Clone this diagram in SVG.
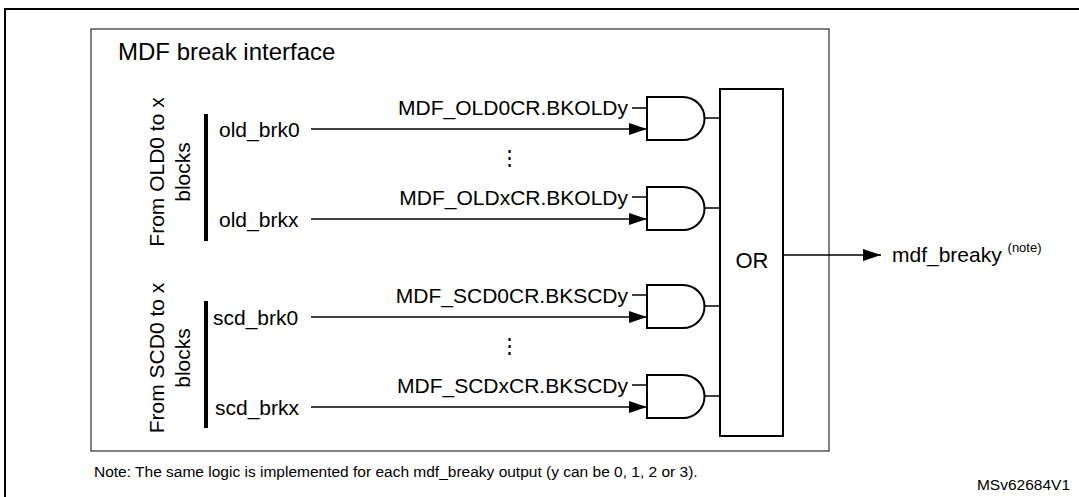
<svg xmlns="http://www.w3.org/2000/svg" width="1079" height="497" viewBox="0 0 1079 497">
<style>
text{font-family:"Liberation Sans",Arial,sans-serif;fill:#000}
.l{font-size:21px}
.ln{stroke:#000;stroke-width:1.5;fill:none}
.g{stroke:#000;stroke-width:2;fill:#fff}
</style>
<defs><marker id="a" markerWidth="18" markerHeight="12" refX="18" refY="6" orient="auto" markerUnits="userSpaceOnUse"><path d="M0,0L18,6L0,12z"/></marker></defs>
<rect width="1079" height="497" fill="#fff"/>
<rect x="5" y="9" width="1080" height="492" fill="none" stroke="#000" stroke-width="2"/>
<g id="frame"><rect x="91" y="29" width="738" height="422" fill="none" stroke="#000" stroke-width="1"/>
<text x="118" y="60" font-size="24">MDF break interface</text></g>
<g id="old-src"><rect x="204" y="114" width="4" height="127"/>
<text class="l" transform="translate(164,172) rotate(-90)" text-anchor="middle">From OLD0 to x</text>
<text class="l" transform="translate(190,172) rotate(-90)" text-anchor="middle">blocks</text></g>
<g id="scd-src"><rect x="204" y="301" width="4" height="127"/>
<text class="l" transform="translate(164,358) rotate(-90)" text-anchor="middle">From SCD0 to x</text>
<text class="l" transform="translate(190,358) rotate(-90)" text-anchor="middle">blocks</text></g>
<g id="connectors">
<line class="ln" x1="311" y1="129" x2="647" y2="129" marker-end="url(#a)"/>
<line class="ln" x1="311" y1="219" x2="647" y2="219" marker-end="url(#a)"/>
<line class="ln" x1="311" y1="317" x2="647" y2="317" marker-end="url(#a)"/>
<line class="ln" x1="311" y1="407" x2="647" y2="407" marker-end="url(#a)"/>
<path class="ln" d="M632,108H647M632,197H647M632,295H647M632,385H647"/>
<path class="ln" d="M705,118H720M705,208H720M705,306H720M705,396H720"/>
<line class="ln" x1="783" y1="255" x2="881" y2="255" marker-end="url(#a)"/>
</g>
<g id="labels">
<text class="l" x="219" y="137">old_brk0</text>
<text class="l" x="219" y="227">old_brkx</text>
<text class="l" x="213" y="325">scd_brk0</text>
<text class="l" x="215" y="415">scd_brkx</text>
<text class="l" x="628" y="115" text-anchor="end">MDF_OLD0CR.BKOLDy</text>
<text class="l" x="628" y="205" text-anchor="end">MDF_OLDxCR.BKOLDy</text>
<text class="l" x="628" y="303" text-anchor="end">MDF_SCD0CR.BKSCDy</text>
<text class="l" x="628" y="393" text-anchor="end">MDF_SCDxCR.BKSCDy</text>
<text class="l" x="509" y="165" text-anchor="middle">⋮</text>
<text class="l" x="509" y="353" text-anchor="middle">⋮</text>
</g>
<g id="and1"><path class="g" d="M647,97H683A21.5,21.5 0 0 1 683,140H647Z"/></g>
<g id="and2"><path class="g" d="M647,187H683A21.5,21.5 0 0 1 683,230H647Z"/></g>
<g id="and3"><path class="g" d="M647,285H683A21.5,21.5 0 0 1 683,328H647Z"/></g>
<g id="and4"><path class="g" d="M647,375H683A21.5,21.5 0 0 1 683,418H647Z"/></g>
<g id="or"><rect class="g" x="720" y="89" width="63" height="347"/><text x="752" y="268" font-size="22" text-anchor="middle">OR</text></g>
<g id="out"><text class="l" x="892" y="262">mdf_breaky <tspan font-size="13" dy="-10">(note)</tspan></text></g>
<text x="94" y="477" font-size="15.5">Note: The same logic is implemented for each mdf_breaky output (y can be 0, 1, 2 or 3).</text>
<text x="1070" y="490" font-size="15.5" text-anchor="end">MSv62684V1</text>
</svg>
